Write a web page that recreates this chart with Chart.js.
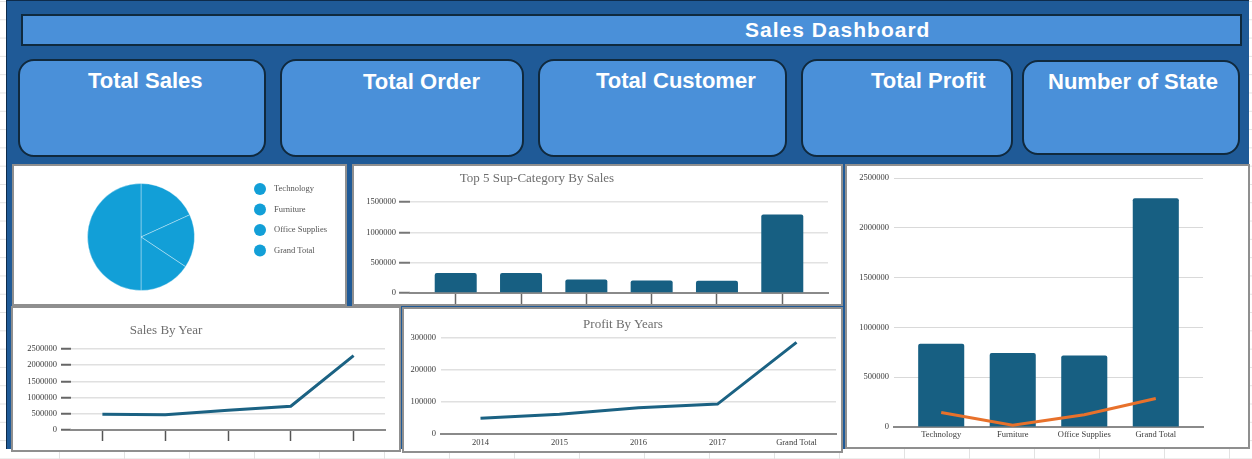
<!DOCTYPE html>
<html>
<head>
<meta charset="utf-8">
<script src="https://cdn.jsdelivr.net/npm/chart.js@4.4.1/dist/chart.umd.min.js"></script>
<style>
  html, body { margin:0; padding:0; }
  body {
    width:1252px; height:459px; position:relative; overflow:hidden; background:#fff;
    background-image: linear-gradient(to right, #e2e2e2 1px, transparent 1px), linear-gradient(to bottom, #e2e2e2 1px, transparent 1px);
    background-size: 65px 18.3px; background-position: 59px 1px;
    font-family: 'Liberation Sans', Arial, sans-serif;
  }
  .abs { position:absolute; box-sizing:border-box; }
  #bg { left:6px; top:0; width:1243px; height:449px; background:#1f5a97; border-left:1px solid #0e2b4a; border-top:1px solid #0e2b4a; }
  #titlebar { left:21px; top:14px; width:1221px; height:32px; background:#4a90d9; border:2px solid #0f2a3f; }
  .card { background:#4a90d9; border:2px solid #10293d; border-radius:16px; }
  .ctext { position:absolute; color:#fff; font-weight:bold; font-size:22px; line-height:24px; white-space:nowrap; }
  #ttext { position:absolute; left:745px; top:18px; color:#fff; font-weight:bold; font-size:21px; line-height:24px; letter-spacing:1px; white-space:nowrap; }
  .panel { background:#fff; border:2px solid #8f8f8f; }
  canvas { position:absolute; }
  .ctitle { position:absolute; transform:translate(-50%,-50%); font-family:'Liberation Serif','Times New Roman',serif; font-size:13px; color:#6e6e6e; white-space:nowrap; line-height:1; }
</style>
</head>
<body>
<div id="bg" class="abs"></div>
<div id="titlebar" class="abs"></div>
<div id="ttext">Sales Dashboard</div>

<div class="abs card" style="left:18px;top:59px;width:248px;height:98px;"></div>
<div class="abs card" style="left:280px;top:59px;width:244px;height:98px;"></div>
<div class="abs card" style="left:538px;top:59px;width:249px;height:98px;"></div>
<div class="abs card" style="left:801px;top:59px;width:212px;height:98px;"></div>
<div class="abs card" style="left:1022px;top:60px;width:218px;height:95px;"></div>
<div class="ctext" style="left:88px;top:69px;">Total Sales</div>
<div class="ctext" style="left:363px;top:70px;">Total Order</div>
<div class="ctext" style="left:596px;top:69px;">Total Customer</div>
<div class="ctext" style="left:871px;top:69px;">Total Profit</div>
<div class="ctext" style="left:1048px;top:70px;">Number of State</div>

<div class="abs panel" style="left:12px;top:164px;width:335px;height:142px;"></div>
<div class="abs panel" style="left:352px;top:164px;width:491px;height:142px;"></div>
<div class="abs panel" style="left:845px;top:164px;width:405px;height:285px;"></div>
<div class="abs panel" style="left:11px;top:306px;width:390px;height:146px;"></div>
<div class="abs panel" style="left:402px;top:307px;width:441px;height:146px;"></div>

<canvas id="pie" width="333" height="140" style="left:13px;top:165px;"></canvas>
<canvas id="top5" width="489" height="140" style="left:353px;top:165px;"></canvas>
<canvas id="combo" width="403" height="283" style="left:846px;top:165px;"></canvas>
<canvas id="salesYear" width="388" height="143" style="left:12px;top:308px;"></canvas>
<canvas id="profitYear" width="439" height="144" style="left:403px;top:308px;"></canvas>

<div class="ctitle" style="left:537px;top:177px;">Top 5 Sup-Category By Sales</div>
<div class="ctitle" style="left:166px;top:329px;">Sales By Year</div>
<div class="ctitle" style="left:623px;top:323px;">Profit By Years</div>

<script>
// ---------- data ----------
const pieLabels = ['Technology', 'Furniture', 'Office Supplies', 'Grand Total'];
const pieValues = [836154, 741999, 719047, 2297200];

const subCategories = ['Phones', 'Chairs', 'Storage', 'Tables', 'Binders', 'Grand Total'];
const subCategorySales = [330007, 328449, 223844, 206966, 203413, 1292679];

const categories = ['Technology', 'Furniture', 'Office Supplies', 'Grand Total'];
const categorySales = [836154, 741999, 719047, 2297200];
const categoryProfit = [145455, 18451, 122491, 286397];

const years = ['2014', '2015', '2016', '2017', 'Grand Total'];
const yearSales = [484247, 470533, 609206, 733215, 2297201];
const yearProfit = [49544, 61619, 81795, 93439, 286397];

const top5Ticks = [0, 500000, 1000000, 1500000];
const comboTicks = [0, 500000, 1000000, 1500000, 2000000, 2500000];
const salesYearTicks = [0, 500000, 1000000, 1500000, 2000000, 2500000];
const profitYearTicks = [0, 100000, 200000, 300000];

// ---------- defaults ----------
Chart.defaults.font.family = "'Liberation Serif', 'Times New Roman', serif";
Chart.defaults.font.size = 8.5;
Chart.defaults.color = '#3c3c3c';
Chart.defaults.animation = false;
Chart.defaults.responsive = false;
Chart.defaults.devicePixelRatio = 1;
Chart.defaults.plugins.legend.display = false;
Chart.defaults.plugins.tooltip.enabled = false;

const BAR = '#175f82';
const LINE = '#1b6283';
const ORANGE = '#e8712b';
const plain = v => String(v);

// custom dot legend for the pie
const dotLegend = {
  id: 'dotLegend',
  afterDraw(chart, args, o) {
    if (!o || !o.enabled) return;
    const ctx = chart.ctx;
    const ds = chart.data.datasets[0];
    ctx.save();
    chart.data.labels.forEach((lab, i) => {
      const y = o.y + i * o.dy;
      ctx.beginPath();
      ctx.arc(o.x, y, o.r, 0, Math.PI * 2);
      ctx.fillStyle = Array.isArray(ds.backgroundColor) ? ds.backgroundColor[i] : ds.backgroundColor;
      ctx.fill();
      ctx.fillStyle = o.color;
      ctx.font = o.font;
      ctx.textBaseline = 'middle';
      ctx.textAlign = 'left';
      ctx.fillText(lab, o.x + o.gap, y);
    });
    ctx.restore();
  }
};

// ---------- pie ----------
new Chart(document.getElementById('pie'), {
  type: 'pie',
  data: {
    labels: pieLabels,
    datasets: [{ data: pieValues, backgroundColor: '#129fd7', borderColor: 'rgba(255,255,255,0.35)', borderWidth: 1 }]
  },
  options: {
    radius: 53.5,
    layout: { padding: { left: 0, right: 77, top: 4, bottom: 0 } },
    plugins: {
      dotLegend: { enabled: true, x: 247, y: 24, dy: 20.5, r: 6, gap: 14, color: '#555', font: "8.5px 'Liberation Serif', serif" }
    }
  },
  plugins: [dotLegend]
});

// ---------- top 5 sub-category ----------
new Chart(document.getElementById('top5'), {
  type: 'bar',
  data: {
    labels: subCategories,
    datasets: [{
      data: subCategories.map((c, i) => ({ x: i, y: subCategorySales[i] })),
      backgroundColor: BAR, borderRadius: 2, barPercentage: 0.643, categoryPercentage: 1
    }]
  },
  options: {
    layout: { padding: { left: 0, right: 14, top: 37, bottom: 1 } },
    scales: {
      x: {
        type: 'linear', min: -0.7, max: 5.7, offset: false,
        ticks: { display: false, stepSize: 1, includeBounds: false },
        grid: { offset: false, drawOnChartArea: false, drawTicks: true, tickLength: 11, tickColor: '#666', tickWidth: 1.5 },
        border: { color: '#8a8a8a', width: 2 },
        afterFit: s => { s.height = 11; }
      },
      y: {
        min: 0, max: 1500000,
        afterBuildTicks: s => { s.ticks = top5Ticks.map(v => ({ value: v })); },
        ticks: { padding: 3, color: '#3c3c3c', callback: plain },
        grid: { color: '#e2e2e2', lineWidth: 1.5, tickColor: '#777', tickLength: 11, tickWidth: 2 },
        border: { display: false },
        afterFit: s => { s.width = 57; }
      }
    }
  }
});

// ---------- category sales + profit combo ----------
new Chart(document.getElementById('combo'), {
  type: 'bar',
  data: {
    labels: categories,
    datasets: [
      {
        type: 'line', order: 1,
        data: categories.map((c, i) => ({ x: i, y: categoryProfit[i] })),
        borderColor: ORANGE, borderWidth: 3, pointRadius: 0, tension: 0
      },
      {
        type: 'bar', order: 2,
        data: categories.map((c, i) => ({ x: i, y: categorySales[i] })),
        backgroundColor: BAR, borderRadius: 2, barPercentage: 0.644, categoryPercentage: 1
      }
    ]
  },
  options: {
    layout: { padding: { left: 0, right: 46, top: 13, bottom: 0 } },
    scales: {
      x: {
        type: 'linear', min: -0.66, max: 3.66, offset: false,
        ticks: { stepSize: 1, includeBounds: false, padding: 3, maxRotation: 0, autoSkip: false, color: '#3c3c3c',
                 callback: v => categories[v] !== undefined ? categories[v] : '' },
        grid: { offset: false, drawOnChartArea: false, drawTicks: false },
        border: { color: '#8a8a8a', width: 2 },
        afterFit: s => { s.height = 21; }
      },
      y: {
        min: 0, max: 2500000,
        afterBuildTicks: s => { s.ticks = comboTicks.map(v => ({ value: v })); },
        ticks: { padding: 5, color: '#3c3c3c', callback: plain },
        grid: { color: '#d9d9d9', lineWidth: 1, drawTicks: false },
        border: { display: false },
        afterFit: s => { s.width = 48; }
      }
    }
  }
});

// ---------- sales by year ----------
new Chart(document.getElementById('salesYear'), {
  type: 'line',
  data: {
    labels: years,
    datasets: [{ data: yearSales, borderColor: LINE, borderWidth: 3, pointRadius: 0, tension: 0 }]
  },
  options: {
    layout: { padding: { left: 0, right: 15, top: 41, bottom: 10 } },
    scales: {
      x: {
        type: 'category', offset: true,
        ticks: { display: false },
        grid: { drawOnChartArea: false, drawTicks: true, tickLength: 11, tickColor: '#555', tickWidth: 1.5, offset: false },
        border: { color: '#8a8a8a', width: 2 },
        afterFit: s => { s.height = 11; }
      },
      y: {
        min: 0, max: 2500000,
        afterBuildTicks: s => { s.ticks = salesYearTicks.map(v => ({ value: v })); },
        ticks: { padding: 4, color: '#3c3c3c', callback: plain },
        grid: { color: '#e0e0e0', lineWidth: 1.5, tickColor: '#666', tickLength: 10, tickWidth: 2 },
        border: { display: false },
        afterFit: s => { s.width = 59; }
      }
    }
  }
});

// ---------- profit by years ----------
new Chart(document.getElementById('profitYear'), {
  type: 'line',
  data: {
    labels: years,
    datasets: [{ data: yearProfit, borderColor: LINE, borderWidth: 3, pointRadius: 0, tension: 0 }]
  },
  options: {
    layout: { padding: { left: 0, right: 6, top: 30, bottom: 0 } },
    scales: {
      x: {
        type: 'category', offset: true,
        ticks: { padding: 3.5, maxRotation: 0, autoSkip: false, color: '#3c3c3c' },
        grid: { drawOnChartArea: false, drawTicks: false, offset: false },
        border: { color: '#8a8a8a', width: 2 },
        afterFit: s => { s.height = 18; }
      },
      y: {
        min: 0, max: 300000,
        afterBuildTicks: s => { s.ticks = profitYearTicks.map(v => ({ value: v })); },
        ticks: { padding: 5, color: '#3c3c3c', callback: plain },
        grid: { color: '#e0e0e0', lineWidth: 1.5, drawTicks: false },
        border: { display: false },
        afterFit: s => { s.width = 38; }
      }
    }
  }
});
</script>
</body>
</html>
